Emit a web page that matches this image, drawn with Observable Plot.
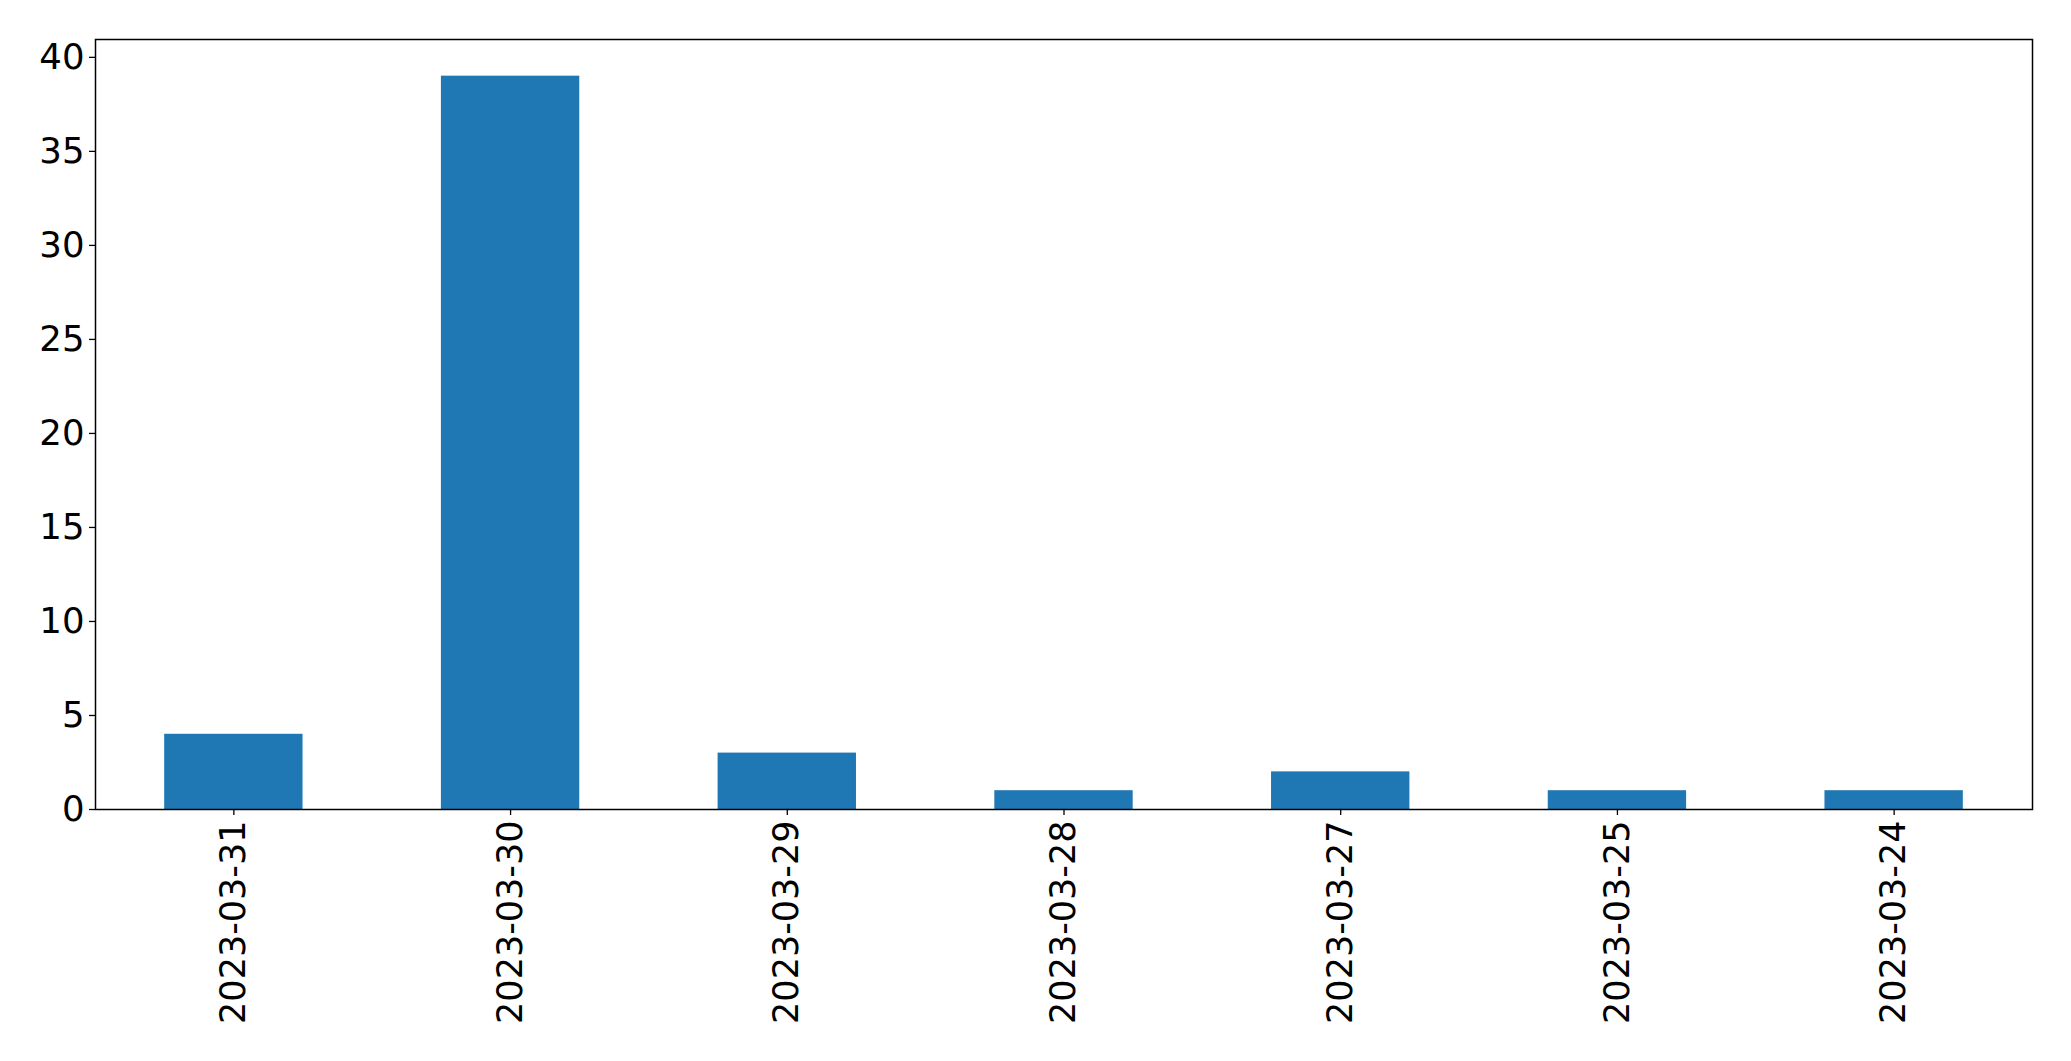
<!DOCTYPE html>
<html>
<head>
<meta charset="utf-8">
<script src="https://cdn.jsdelivr.net/npm/d3@7"></script>
<script src="https://cdn.jsdelivr.net/npm/@observablehq/plot@0.6"></script>
<style>
  html, body { margin: 0; padding: 0; background: #fff; }
  #chart svg { display: block; }
</style>
</head>
<body>
<div id="chart"></div>
<script>
const dates = ["2023-03-31", "2023-03-30", "2023-03-29", "2023-03-28", "2023-03-27", "2023-03-25", "2023-03-24"];
const counts = [4, 39, 3, 1, 2, 1, 1];
const yTicks = [0, 5, 10, 15, 20, 25, 30, 35, 40];

const data = dates.map((d, i) => ({date: d, count: counts[i]}));

const chart = Plot.plot({
  width: 2071,
  height: 1061,
  marginLeft: 95,
  marginRight: 39,
  marginTop: 39,
  marginBottom: 252,
  style: {fontFamily: "DejaVu Sans", fontSize: "35px", color: "#000", background: "#fff"},
  x: {type: "band", domain: dates, paddingInner: 0.5, paddingOuter: 0.25, round: false, label: null},
  y: {domain: [0, 40.95], label: null},
  marks: [
    Plot.barY(data, {x: "date", y: "count", fill: "#1f77b4"}),
    Plot.axisY({ticks: yTicks, tickSize: 6, tickPadding: 5, fontSize: 35.5, label: null, stroke: "#000", strokeWidth: 1.3}),
    Plot.axisX({tickSize: 6, tickRotate: -90, tickPadding: 5, fontSize: 35, label: null, stroke: "#000", strokeWidth: 1.3}),
    Plot.frame({stroke: "#000", strokeWidth: 1.5})
  ]
});
document.getElementById("chart").appendChild(chart);
</script>
</body>
</html>
